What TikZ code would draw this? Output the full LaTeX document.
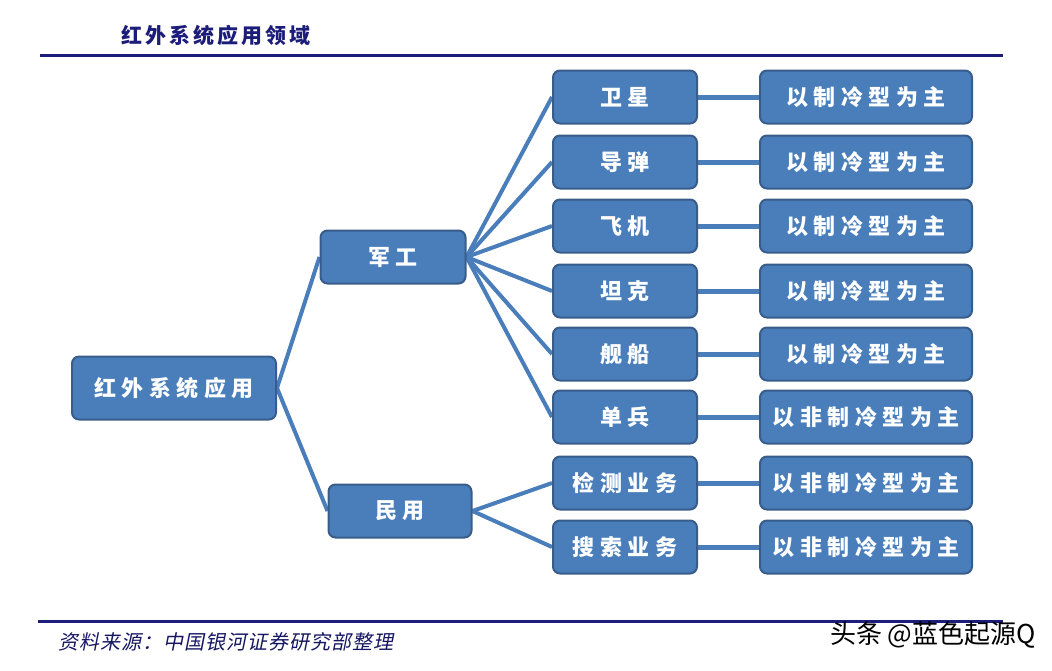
\documentclass[tikz,border=0pt]{standalone}
\usepackage{fontspec}
\usetikzlibrary{backgrounds}
\newfontfamily\cjkbox[LetterSpace=25]{Noto Sans CJK SC}
\newfontfamily\cjktitle[LetterSpace=14]{Noto Sans CJK SC}
\newfontfamily\cjkslant[FakeSlant=0.2,LetterSpace=5]{Noto Sans CJK SC}
\newfontfamily\cjkplain{Noto Sans CJK SC}
\definecolor{boxfill}{HTML}{4A7EBB}
\definecolor{boxline}{HTML}{385D8A}
\definecolor{connc}{HTML}{4A7EBB}
\definecolor{navy}{HTML}{1C1C7A}
\tikzset{
  box/.style={draw=boxline, fill=boxfill, line width=2pt, rounded corners=7pt,
    minimum height=53pt, inner sep=0pt, text=white,
    font=\cjkbox\bfseries\fontsize{22}{26}\selectfont},
  midbox/.style={box, minimum width=144pt},
  rightbox/.style={box, minimum width=212pt},
  conn/.style={draw=connc, line width=4pt},
  rule/.style={draw=navy, line width=3pt}
}
\begin{document}
\begin{tikzpicture}[x=1pt,y=-1pt]
\useasboundingbox (0,0) rectangle (1052,670);

\node[anchor=west, text=navy, font=\cjktitle\bfseries\fontsize{21}{25}\selectfont] (title) at (118,35) {红外系统应用领域};
\coordinate (tl1) at (40,55);
\coordinate (tl2) at (1003,55);
\draw[rule] (tl1) -- (tl2);

\node[box, minimum width=204pt, minimum height=63pt] (root) at (174,388) {红外系统应用};
\node[midbox, minimum width=145pt] (jg) at (393,257) {军工};
\node[midbox, minimum width=143pt] (my) at (400,511) {民用};

\node[midbox] (a1) at (625,97) {卫星};
\node[midbox] (a2) at (625,162) {导弹};
\node[midbox] (a3) at (625,226) {飞机};
\node[midbox] (a4) at (625,291) {坦克};
\node[midbox] (a5) at (625,354) {舰船};
\node[midbox] (a6) at (625,417) {单兵};
\node[midbox] (a7) at (625,483) {检测业务};
\node[midbox] (a8) at (625,547) {搜索业务};

\node[rightbox] (b1) at (866,97) {以制冷型为主};
\node[rightbox] (b2) at (866,162) {以制冷型为主};
\node[rightbox] (b3) at (866,226) {以制冷型为主};
\node[rightbox] (b4) at (866,291) {以制冷型为主};
\node[rightbox] (b5) at (866,354) {以制冷型为主};
\node[rightbox] (b6) at (866,417) {以非制冷型为主};
\node[rightbox] (b7) at (866,483) {以非制冷型为主};
\node[rightbox] (b8) at (866,547) {以非制冷型为主};

\begin{scope}[on background layer]
\draw[conn] (root.east) -- (jg.west);
\draw[conn] (root.east) -- (my.west);
\foreach \i in {1,...,6} { \draw[conn] (jg.east) -- (a\i.west); }
\draw[conn] (my.east) -- (a7.west);
\draw[conn] (my.east) -- (a8.west);
\foreach \i in {1,...,8} { \draw[conn, line width=5pt] (a\i.east) -- (b\i.west); }
\end{scope}

\coordinate (bl1) at (38,621);
\coordinate (bl2) at (1003,621);
\draw[rule] (bl1) -- (bl2);
\node[anchor=west, text=navy!80!black, font=\cjkslant\fontsize{20}{24}\selectfont] (src) at (55,642) {资料来源：中国银河证券研究部整理};
\node[anchor=east, text=black, font=\cjkplain\fontsize{26}{30}\selectfont, inner sep=0pt] (wm) at (1036,635) {头条 @蓝色起源Q};
\end{tikzpicture}
\end{document}
